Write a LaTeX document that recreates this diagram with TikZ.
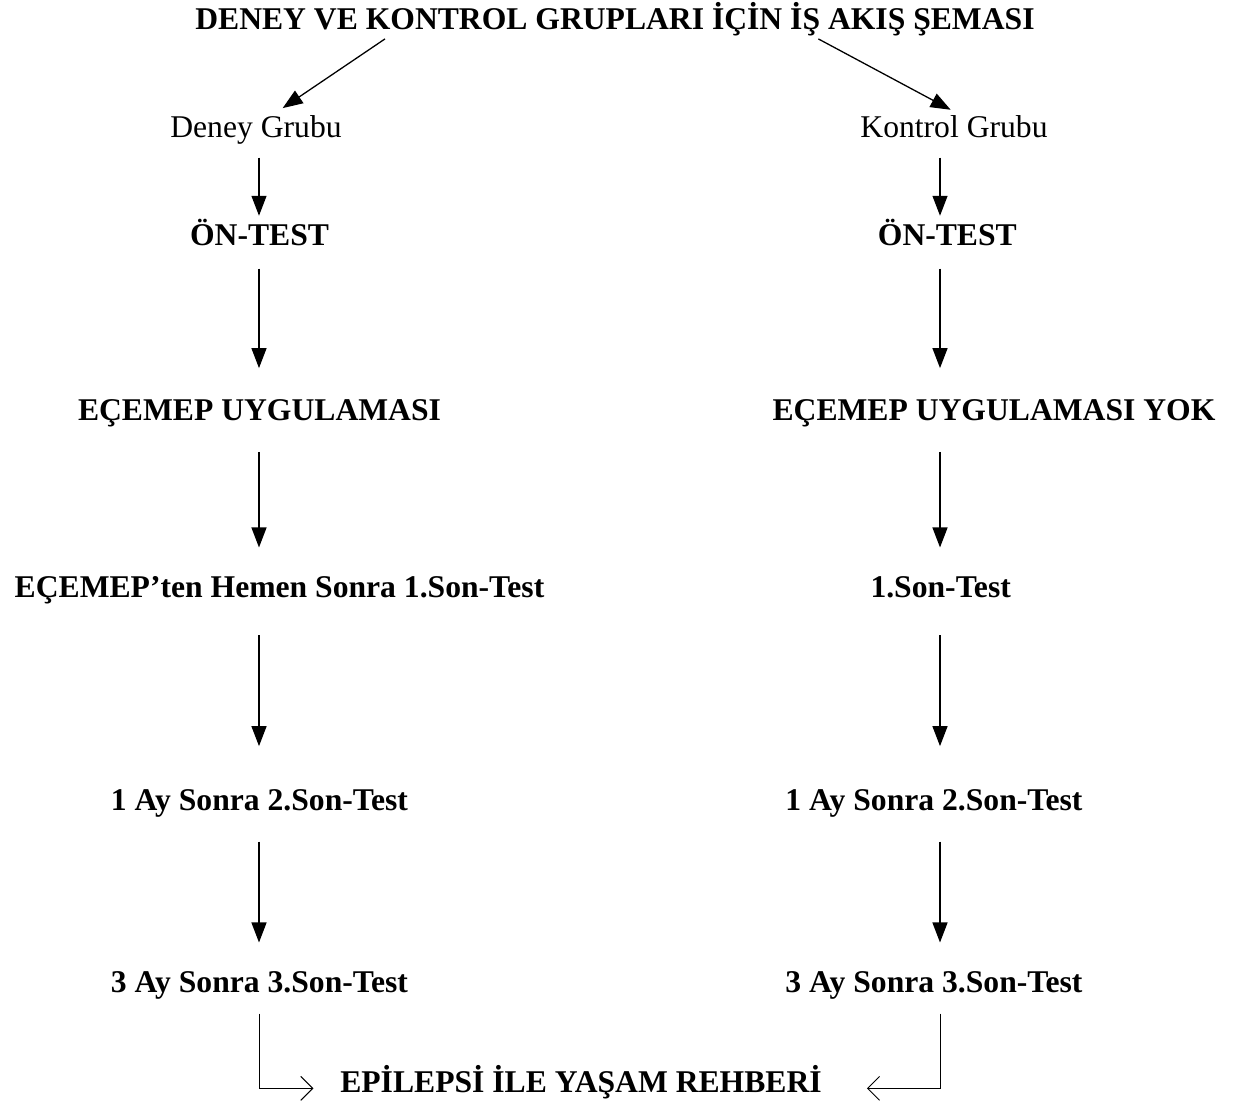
\documentclass[tikz,border=0pt]{standalone}
\usepackage{fontspec}
\setmainfont{Liberation Serif}
\usetikzlibrary{positioning,calc,arrows.meta}

\tikzset{
  lbl/.style={font=\fontsize{27}{32}\selectfont, inner sep=0pt, text height=0.62cm, text depth=0.18cm},
  blbl/.style={lbl, font=\fontsize{27}{32}\selectfont\bfseries},
  arr/.style={-{Triangle[length=0.6cm,width=0.45cm]}, line width=1.1pt},
  openarr/.style={-{Straight Barb[length=0.36cm,width=0.72cm]}, line width=0.8pt}
}

\begin{document}
\begin{tikzpicture}[x=0.03cm, y=-0.03cm, node distance=2cm, on grid]
    \useasboundingbox (0,0) rectangle (1239,1112);

    \node [blbl] (title) at (615,22) {DENEY VE KONTROL GRUPLARI İÇİN İŞ AKIŞ ŞEMASI};

    % left column
    \node [lbl] (deney) at (256,130) {Deney Grubu};
    \node [blbl, below=3.25cm of deney, xshift=3pt] (dOn) {ÖN-TEST};
    \node [blbl, below=5.25cm of dOn] (dUyg) {EÇEMEP UYGULAMASI};
    \node [blbl, below=5.3cm of dUyg, xshift=0.6cm] (dSon1) {EÇEMEP’ten Hemen Sonra 1.Son-Test};
    \node [blbl, below=6.39cm of dSon1, xshift=-0.6cm] (dSon2) {1 Ay Sonra 2.Son-Test};
    \node [blbl, below=5.46cm of dSon2] (dSon3) {3 Ay Sonra 3.Son-Test};

    % right column
    \node [lbl] (kontrol) at (954,130) {Kontrol Grubu};
    \node [blbl, below=3.25cm of kontrol, xshift=-0.2cm] (kOn) {ÖN-TEST};
    \node [blbl, below=5.25cm of kOn, xshift=1.4cm] (kUyg) {EÇEMEP UYGULAMASI YOK};
    \node [blbl, below=5.3cm of kUyg, xshift=-1.6cm] (kSon1) {1.Son-Test};
    \node [blbl, below=6.39cm of kSon1, xshift=-0.2cm] (kSon2) {1 Ay Sonra 2.Son-Test};
    \node [blbl, below=5.46cm of kSon2] (kSon3) {3 Ay Sonra 3.Son-Test};

    \node [blbl] (rehber) at (581,1085) {EPİLEPSİ İLE YAŞAM REHBERİ};

    \coordinate (dx) at (259,0);
    \coordinate (kx) at (940,0);

    \draw [arr] ([xshift=-6.9cm,yshift=-0.1cm]title.south) -- ([xshift=0.8cm,yshift=0.25cm]deney.north);
    \draw [arr] ([xshift=6.1cm,yshift=-0.1cm]title.south) -- ([xshift=-0.1cm,yshift=0.2cm]kontrol.north);

    % arrows down the two columns
    \foreach \a/\b/\s/\e in {deney/dOn/0.42/0.27, dOn/dUyg/0.5/0.95, dUyg/dSon1/0.75/0.87,
                             dSon1/dSon2/0.95/1.3, dSon2/dSon3/0.75/0.87}
        \draw [arr] ([yshift=-\s cm]\a.south -| dx) -- ([yshift=\e cm]\b.north -| dx);
    \foreach \a/\b/\s/\e in {kontrol/kOn/0.42/0.27, kOn/kUyg/0.5/0.95, kUyg/kSon1/0.75/0.87,
                             kSon1/kSon2/0.95/1.3, kSon2/kSon3/0.75/0.87}
        \draw [arr] ([yshift=-\s cm]\a.south -| kx) -- ([yshift=\e cm]\b.north -| kx);

    \draw [openarr] ([yshift=-0.45cm]dSon3.south -| dx) |- ([xshift=-0.8cm,yshift=-0.1cm]rehber.west);
    \draw [openarr] ([yshift=-0.45cm]kSon3.south -| kx) |- ([xshift=1.35cm,yshift=-0.1cm]rehber.east);
\end{tikzpicture}
\end{document}
